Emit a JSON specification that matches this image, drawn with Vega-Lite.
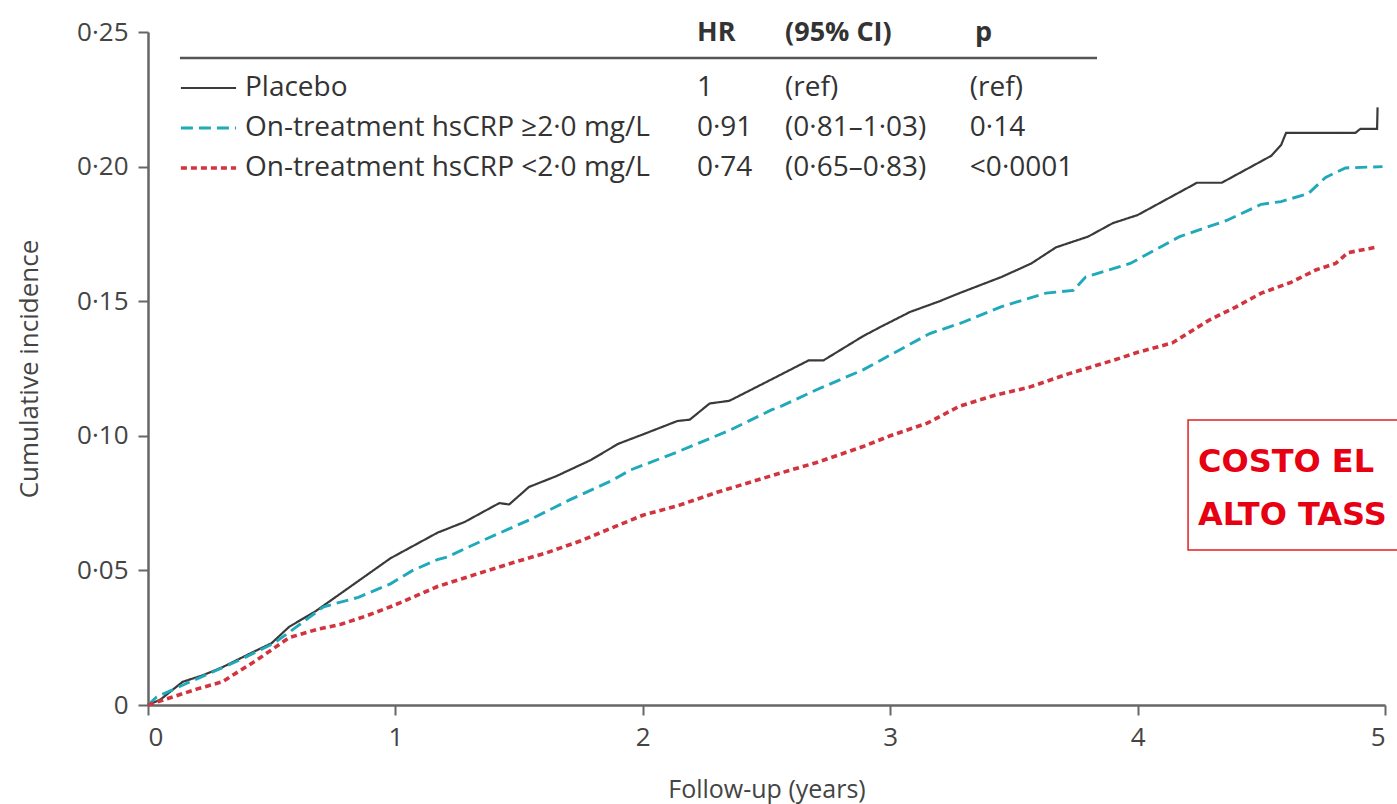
{
  "$schema": "https://vega.github.io/schema/vega-lite/v6.json",
  "width": 1237,
  "height": 673,
  "autosize": {"type": "none"},
  "padding": {"left": 148, "top": 32, "right": 12, "bottom": 99},
  "background": "white",
  "config": {"view": {"stroke": null}, "font": "Open Sans"},
  "datasets": {
    "curves": [
      {"series": "Placebo", "t": 0, "ci": 0},
      {"series": "Placebo", "t": 0.05, "ci": 0.002},
      {"series": "Placebo", "t": 0.14, "ci": 0.0086},
      {"series": "Placebo", "t": 0.22, "ci": 0.011},
      {"series": "Placebo", "t": 0.3, "ci": 0.014},
      {"series": "Placebo", "t": 0.41, "ci": 0.019},
      {"series": "Placebo", "t": 0.5, "ci": 0.023},
      {"series": "Placebo", "t": 0.57, "ci": 0.029},
      {"series": "Placebo", "t": 0.68, "ci": 0.035},
      {"series": "Placebo", "t": 0.78, "ci": 0.0415},
      {"series": "Placebo", "t": 0.88, "ci": 0.048},
      {"series": "Placebo", "t": 0.98, "ci": 0.0545},
      {"series": "Placebo", "t": 1.07, "ci": 0.059},
      {"series": "Placebo", "t": 1.17, "ci": 0.064},
      {"series": "Placebo", "t": 1.28, "ci": 0.068},
      {"series": "Placebo", "t": 1.42, "ci": 0.075},
      {"series": "Placebo", "t": 1.46, "ci": 0.0745},
      {"series": "Placebo", "t": 1.54, "ci": 0.081},
      {"series": "Placebo", "t": 1.65, "ci": 0.085},
      {"series": "Placebo", "t": 1.79, "ci": 0.091},
      {"series": "Placebo", "t": 1.9, "ci": 0.097},
      {"series": "Placebo", "t": 2.0, "ci": 0.1005},
      {"series": "Placebo", "t": 2.14, "ci": 0.1055},
      {"series": "Placebo", "t": 2.19, "ci": 0.106},
      {"series": "Placebo", "t": 2.27, "ci": 0.112},
      {"series": "Placebo", "t": 2.35, "ci": 0.113},
      {"series": "Placebo", "t": 2.5, "ci": 0.12},
      {"series": "Placebo", "t": 2.67, "ci": 0.128},
      {"series": "Placebo", "t": 2.73, "ci": 0.128},
      {"series": "Placebo", "t": 2.89, "ci": 0.137},
      {"series": "Placebo", "t": 2.96, "ci": 0.1404},
      {"series": "Placebo", "t": 3.08, "ci": 0.146},
      {"series": "Placebo", "t": 3.2, "ci": 0.15},
      {"series": "Placebo", "t": 3.28, "ci": 0.153},
      {"series": "Placebo", "t": 3.45, "ci": 0.159},
      {"series": "Placebo", "t": 3.57, "ci": 0.164},
      {"series": "Placebo", "t": 3.67, "ci": 0.17},
      {"series": "Placebo", "t": 3.8, "ci": 0.174},
      {"series": "Placebo", "t": 3.9, "ci": 0.179},
      {"series": "Placebo", "t": 4.0, "ci": 0.182},
      {"series": "Placebo", "t": 4.14, "ci": 0.189},
      {"series": "Placebo", "t": 4.24, "ci": 0.194},
      {"series": "Placebo", "t": 4.34, "ci": 0.194},
      {"series": "Placebo", "t": 4.44, "ci": 0.199},
      {"series": "Placebo", "t": 4.54, "ci": 0.204},
      {"series": "Placebo", "t": 4.58, "ci": 0.208},
      {"series": "Placebo", "t": 4.6, "ci": 0.2125},
      {"series": "Placebo", "t": 4.88, "ci": 0.2125},
      {"series": "Placebo", "t": 4.9, "ci": 0.214},
      {"series": "Placebo", "t": 4.968, "ci": 0.214},
      {"series": "Placebo", "t": 4.97, "ci": 0.222},
      {"series": "On-treatment hsCRP ≥2·0 mg/L", "t": 0, "ci": 0},
      {"series": "On-treatment hsCRP ≥2·0 mg/L", "t": 0.035, "ci": 0.003},
      {"series": "On-treatment hsCRP ≥2·0 mg/L", "t": 0.17, "ci": 0.0086},
      {"series": "On-treatment hsCRP ≥2·0 mg/L", "t": 0.28, "ci": 0.013},
      {"series": "On-treatment hsCRP ≥2·0 mg/L", "t": 0.37, "ci": 0.0167},
      {"series": "On-treatment hsCRP ≥2·0 mg/L", "t": 0.51, "ci": 0.023},
      {"series": "On-treatment hsCRP ≥2·0 mg/L", "t": 0.6, "ci": 0.029},
      {"series": "On-treatment hsCRP ≥2·0 mg/L", "t": 0.71, "ci": 0.0365},
      {"series": "On-treatment hsCRP ≥2·0 mg/L", "t": 0.85, "ci": 0.04},
      {"series": "On-treatment hsCRP ≥2·0 mg/L", "t": 0.98, "ci": 0.045},
      {"series": "On-treatment hsCRP ≥2·0 mg/L", "t": 1.07, "ci": 0.05},
      {"series": "On-treatment hsCRP ≥2·0 mg/L", "t": 1.17, "ci": 0.054},
      {"series": "On-treatment hsCRP ≥2·0 mg/L", "t": 1.21, "ci": 0.055},
      {"series": "On-treatment hsCRP ≥2·0 mg/L", "t": 1.35, "ci": 0.061},
      {"series": "On-treatment hsCRP ≥2·0 mg/L", "t": 1.54, "ci": 0.0687},
      {"series": "On-treatment hsCRP ≥2·0 mg/L", "t": 1.7, "ci": 0.076},
      {"series": "On-treatment hsCRP ≥2·0 mg/L", "t": 1.88, "ci": 0.0836},
      {"series": "On-treatment hsCRP ≥2·0 mg/L", "t": 1.95, "ci": 0.0873},
      {"series": "On-treatment hsCRP ≥2·0 mg/L", "t": 2.14, "ci": 0.094},
      {"series": "On-treatment hsCRP ≥2·0 mg/L", "t": 2.35, "ci": 0.102},
      {"series": "On-treatment hsCRP ≥2·0 mg/L", "t": 2.52, "ci": 0.1096},
      {"series": "On-treatment hsCRP ≥2·0 mg/L", "t": 2.56, "ci": 0.111},
      {"series": "On-treatment hsCRP ≥2·0 mg/L", "t": 2.7, "ci": 0.117},
      {"series": "On-treatment hsCRP ≥2·0 mg/L", "t": 2.89, "ci": 0.1245},
      {"series": "On-treatment hsCRP ≥2·0 mg/L", "t": 2.96, "ci": 0.128},
      {"series": "On-treatment hsCRP ≥2·0 mg/L", "t": 3.16, "ci": 0.138},
      {"series": "On-treatment hsCRP ≥2·0 mg/L", "t": 3.29, "ci": 0.142},
      {"series": "On-treatment hsCRP ≥2·0 mg/L", "t": 3.45, "ci": 0.148},
      {"series": "On-treatment hsCRP ≥2·0 mg/L", "t": 3.63, "ci": 0.153},
      {"series": "On-treatment hsCRP ≥2·0 mg/L", "t": 3.74, "ci": 0.154},
      {"series": "On-treatment hsCRP ≥2·0 mg/L", "t": 3.79, "ci": 0.159},
      {"series": "On-treatment hsCRP ≥2·0 mg/L", "t": 3.97, "ci": 0.164},
      {"series": "On-treatment hsCRP ≥2·0 mg/L", "t": 4.17, "ci": 0.174},
      {"series": "On-treatment hsCRP ≥2·0 mg/L", "t": 4.36, "ci": 0.18},
      {"series": "On-treatment hsCRP ≥2·0 mg/L", "t": 4.5, "ci": 0.186},
      {"series": "On-treatment hsCRP ≥2·0 mg/L", "t": 4.58, "ci": 0.187},
      {"series": "On-treatment hsCRP ≥2·0 mg/L", "t": 4.69, "ci": 0.19},
      {"series": "On-treatment hsCRP ≥2·0 mg/L", "t": 4.76, "ci": 0.196},
      {"series": "On-treatment hsCRP ≥2·0 mg/L", "t": 4.84, "ci": 0.1995},
      {"series": "On-treatment hsCRP ≥2·0 mg/L", "t": 4.99, "ci": 0.2},
      {"series": "On-treatment hsCRP <2·0 mg/L", "t": 0, "ci": 0},
      {"series": "On-treatment hsCRP <2·0 mg/L", "t": 0.1, "ci": 0.003},
      {"series": "On-treatment hsCRP <2·0 mg/L", "t": 0.2, "ci": 0.006},
      {"series": "On-treatment hsCRP <2·0 mg/L", "t": 0.3, "ci": 0.0086},
      {"series": "On-treatment hsCRP <2·0 mg/L", "t": 0.44, "ci": 0.0167},
      {"series": "On-treatment hsCRP <2·0 mg/L", "t": 0.57, "ci": 0.025},
      {"series": "On-treatment hsCRP <2·0 mg/L", "t": 0.68, "ci": 0.028},
      {"series": "On-treatment hsCRP <2·0 mg/L", "t": 0.78, "ci": 0.03},
      {"series": "On-treatment hsCRP <2·0 mg/L", "t": 0.88, "ci": 0.033},
      {"series": "On-treatment hsCRP <2·0 mg/L", "t": 0.98, "ci": 0.0365},
      {"series": "On-treatment hsCRP <2·0 mg/L", "t": 1.02, "ci": 0.038},
      {"series": "On-treatment hsCRP <2·0 mg/L", "t": 1.17, "ci": 0.044},
      {"series": "On-treatment hsCRP <2·0 mg/L", "t": 1.34, "ci": 0.049},
      {"series": "On-treatment hsCRP <2·0 mg/L", "t": 1.48, "ci": 0.053},
      {"series": "On-treatment hsCRP <2·0 mg/L", "t": 1.61, "ci": 0.0565},
      {"series": "On-treatment hsCRP <2·0 mg/L", "t": 1.75, "ci": 0.061},
      {"series": "On-treatment hsCRP <2·0 mg/L", "t": 1.88, "ci": 0.066},
      {"series": "On-treatment hsCRP <2·0 mg/L", "t": 2.0, "ci": 0.0705},
      {"series": "On-treatment hsCRP <2·0 mg/L", "t": 2.14, "ci": 0.074},
      {"series": "On-treatment hsCRP <2·0 mg/L", "t": 2.3, "ci": 0.079},
      {"series": "On-treatment hsCRP <2·0 mg/L", "t": 2.55, "ci": 0.086},
      {"series": "On-treatment hsCRP <2·0 mg/L", "t": 2.7, "ci": 0.09},
      {"series": "On-treatment hsCRP <2·0 mg/L", "t": 2.89, "ci": 0.096},
      {"series": "On-treatment hsCRP <2·0 mg/L", "t": 3.0, "ci": 0.1},
      {"series": "On-treatment hsCRP <2·0 mg/L", "t": 3.15, "ci": 0.1047},
      {"series": "On-treatment hsCRP <2·0 mg/L", "t": 3.28, "ci": 0.111},
      {"series": "On-treatment hsCRP <2·0 mg/L", "t": 3.42, "ci": 0.115},
      {"series": "On-treatment hsCRP <2·0 mg/L", "t": 3.56, "ci": 0.118},
      {"series": "On-treatment hsCRP <2·0 mg/L", "t": 3.72, "ci": 0.123},
      {"series": "On-treatment hsCRP <2·0 mg/L", "t": 3.9, "ci": 0.128},
      {"series": "On-treatment hsCRP <2·0 mg/L", "t": 4.0, "ci": 0.131},
      {"series": "On-treatment hsCRP <2·0 mg/L", "t": 4.14, "ci": 0.1345},
      {"series": "On-treatment hsCRP <2·0 mg/L", "t": 4.29, "ci": 0.143},
      {"series": "On-treatment hsCRP <2·0 mg/L", "t": 4.4, "ci": 0.148},
      {"series": "On-treatment hsCRP <2·0 mg/L", "t": 4.5, "ci": 0.153},
      {"series": "On-treatment hsCRP <2·0 mg/L", "t": 4.62, "ci": 0.157},
      {"series": "On-treatment hsCRP <2·0 mg/L", "t": 4.72, "ci": 0.1616},
      {"series": "On-treatment hsCRP <2·0 mg/L", "t": 4.8, "ci": 0.164},
      {"series": "On-treatment hsCRP <2·0 mg/L", "t": 4.85, "ci": 0.168},
      {"series": "On-treatment hsCRP <2·0 mg/L", "t": 4.96, "ci": 0.17}
    ],
    "legend": [
      {"series": "Placebo", "hr": "1", "cint": "(ref)", "p": "(ref)"},
      {"series": "On-treatment hsCRP ≥2·0 mg/L", "hr": "0·91", "cint": "(0·81–1·03)", "p": "\u2003 0·14"},
      {"series": "On-treatment hsCRP <2·0 mg/L", "hr": "0·74", "cint": "(0·65–0·83)", "p": "<0·0001"}
    ],
    "one": [{"k": 1}]
  },
  "layer": [
    {
      "layer": [
        {
          "data": {"name": "curves"},
          "mark": {"type": "line", "interpolate": "linear"},
          "encoding": {
            "x": {
              "field": "t", "type": "quantitative",
              "scale": {"domain": [0, 5], "nice": false, "zero": false},
              "axis": {
                "values": [0, 1, 2, 3, 4, 5], "format": "d", "grid": false,
                "title": "Follow-up (years)", "titleFont": "Open Sans", "titleFontSize": 25, "titleFontWeight": "normal", "titleColor": "#444", "titlePadding": 27,
                "labelFont": "Open Sans", "labelFontSize": 26, "labelColor": "#444", "labelPadding": 9,
                "domainColor": "#666", "domainWidth": 2.5, "tickColor": "#666", "tickWidth": 2, "tickSize": 10
              }
            },
            "y": {
              "field": "ci", "type": "quantitative",
              "scale": {"domain": [0, 0.25], "nice": false},
              "axis": {
                "values": [0, 0.05, 0.1, 0.15, 0.2, 0.25], "grid": false,
                "labelExpr": "datum.value == 0 ? '0' : replace(format(datum.value, '.2f'), '.', '·')",
                "title": "Cumulative incidence", "titleFont": "Open Sans", "titleFontSize": 26, "titleFontWeight": "normal", "titleColor": "#444", "titlePadding": 34,
                "labelFont": "Open Sans", "labelFontSize": 26, "labelColor": "#444", "labelPadding": 10,
                "domainColor": "#666", "domainWidth": 2.5, "tickColor": "#666", "tickWidth": 2, "tickSize": 10
              }
            },
            "color": {
              "field": "series", "type": "nominal", "legend": null,
              "scale": {"domain": ["Placebo", "On-treatment hsCRP ≥2·0 mg/L", "On-treatment hsCRP <2·0 mg/L"], "range": ["#3a3a3a", "#1fa9ba", "#d2343f"]}
            },
            "strokeDash": {
              "field": "series", "type": "nominal", "legend": null,
              "scale": {"domain": ["Placebo", "On-treatment hsCRP ≥2·0 mg/L", "On-treatment hsCRP <2·0 mg/L"], "range": [[1, 0], [12, 6], [6, 4]]}
            },
            "strokeWidth": {
              "field": "series", "type": "nominal", "legend": null,
              "scale": {"domain": ["Placebo", "On-treatment hsCRP ≥2·0 mg/L", "On-treatment hsCRP <2·0 mg/L"], "range": [2.2, 3.6, 3.2]}
            }
          }
        },
        {
          "data": {"name": "one"},
          "mark": {"type": "rule", "color": "#555", "strokeWidth": 2.5},
          "encoding": {
            "x": {"datum": 0.129, "type": "quantitative"},
            "x2": {"datum": 3.836},
            "y": {"datum": 0.2403, "type": "quantitative"}
          }
        },
        {
          "data": {"name": "one"},
          "mark": {"type": "text", "align": "left", "baseline": "middle", "font": "Open Sans", "fontSize": 27, "fontWeight": "bold", "color": "#333", "text": "HR"},
          "encoding": {"x": {"datum": 2.219, "type": "quantitative"}, "y": {"datum": 0.2496, "type": "quantitative"}}
        },
        {
          "data": {"name": "one"},
          "mark": {"type": "text", "align": "left", "baseline": "middle", "font": "Open Sans", "fontSize": 27, "fontWeight": "bold", "color": "#333", "text": "(95% CI)"},
          "encoding": {"x": {"datum": 2.575, "type": "quantitative"}, "y": {"datum": 0.2496, "type": "quantitative"}}
        },
        {
          "data": {"name": "one"},
          "mark": {"type": "text", "align": "left", "baseline": "middle", "font": "Open Sans", "fontSize": 27, "fontWeight": "bold", "color": "#333", "text": "p"},
          "encoding": {"x": {"datum": 3.343, "type": "quantitative"}, "y": {"datum": 0.2496, "type": "quantitative"}}
        },
        {
          "data": {"name": "one"},
          "mark": {"type": "rect", "fill": "white", "stroke": "#e41e1e", "strokeWidth": 1.5},
          "encoding": {
            "x": {"datum": 4.204, "type": "quantitative"},
            "x2": {"datum": 5.2},
            "y": {"datum": 0.1059, "type": "quantitative"},
            "y2": {"datum": 0.0576}
          }
        },
        {
          "data": {"name": "one"},
          "mark": {"type": "text", "align": "left", "baseline": "alphabetic", "font": "DejaVu Sans", "fontSize": 32, "fontWeight": "bold", "color": "#e60012", "text": "COSTO EL"},
          "encoding": {"x": {"datum": 4.244, "type": "quantitative"}, "y": {"datum": 0.0866, "type": "quantitative"}}
        },
        {
          "data": {"name": "one"},
          "mark": {"type": "text", "align": "left", "baseline": "alphabetic", "font": "DejaVu Sans", "fontSize": 32, "fontWeight": "bold", "color": "#e60012", "text": "ALTO TASS"},
          "encoding": {"x": {"datum": 4.244, "type": "quantitative"}, "y": {"datum": 0.0669, "type": "quantitative"}}
        }
      ]
    },
    {
      "data": {"name": "legend"},
      "encoding": {
        "y": {
          "field": "series", "type": "ordinal", "axis": null,
          "scale": {"type": "point", "domain": ["Placebo", "On-treatment hsCRP ≥2·0 mg/L", "On-treatment hsCRP <2·0 mg/L"], "range": [56, 136], "padding": 0}
        }
      },
      "layer": [
        {
          "mark": {"type": "rule"},
          "encoding": {
            "x": {"datum": 0.133, "type": "quantitative"},
            "x2": {"datum": 0.356},
            "color": {"field": "series", "type": "nominal", "legend": null},
            "strokeDash": {"field": "series", "type": "nominal", "legend": null},
            "strokeWidth": {"field": "series", "type": "nominal", "legend": null}
          }
        },
        {
          "mark": {"type": "text", "align": "left", "baseline": "middle", "font": "Open Sans", "fontSize": 28, "color": "#333"},
          "encoding": {"x": {"datum": 0.392, "type": "quantitative"}, "text": {"field": "series"}}
        },
        {
          "mark": {"type": "text", "align": "left", "baseline": "middle", "font": "Open Sans", "fontSize": 28, "color": "#333"},
          "encoding": {"x": {"datum": 2.219, "type": "quantitative"}, "text": {"field": "hr"}}
        },
        {
          "mark": {"type": "text", "align": "left", "baseline": "middle", "font": "Open Sans", "fontSize": 28, "color": "#333"},
          "encoding": {"x": {"datum": 2.575, "type": "quantitative"}, "text": {"field": "cint"}}
        },
        {
          "mark": {"type": "text", "align": "left", "baseline": "middle", "font": "Open Sans", "fontSize": 28, "color": "#333"},
          "encoding": {"x": {"datum": 3.322, "type": "quantitative"}, "text": {"field": "p"}}
        }
      ]
    }
  ],
  "resolve": {"scale": {"y": "independent"}}
}
